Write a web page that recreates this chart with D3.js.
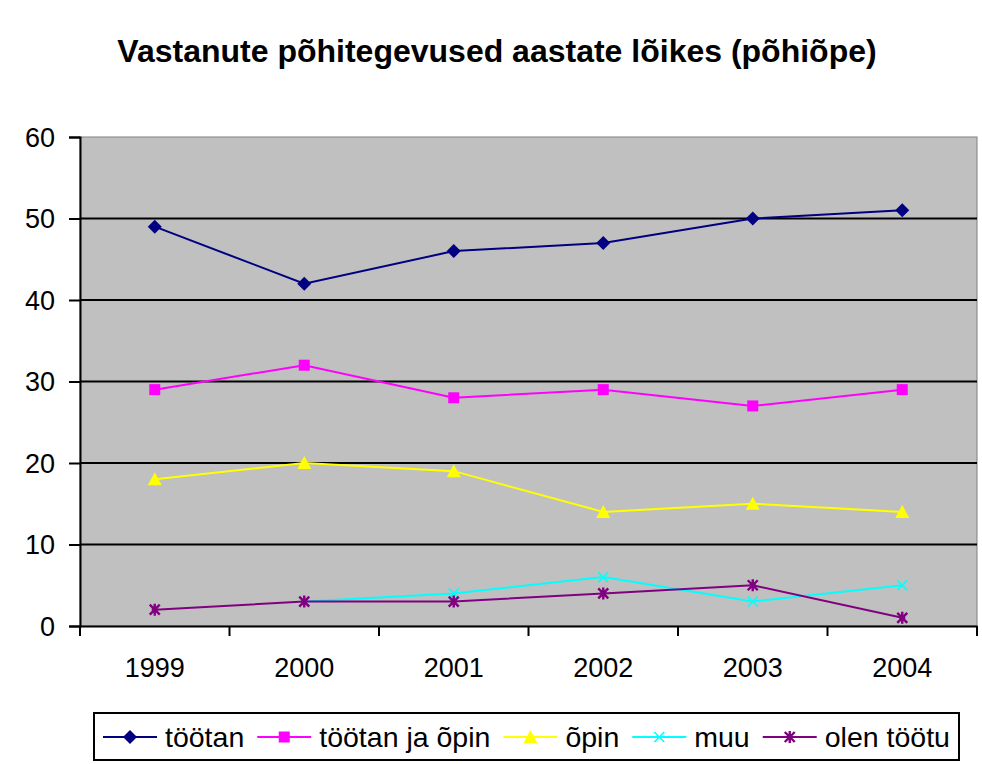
<!DOCTYPE html>
<html>
<head>
<meta charset="utf-8">
<script src="https://cdn.jsdelivr.net/npm/d3@7"></script>
<style>
  body { margin: 0; background: #fff; }
  text { font-family: "Liberation Sans", Arial, sans-serif; fill: #000; }
</style>
</head>
<body>
<svg id="chart" width="982" height="764"></svg>
<script>
const years = ["1999", "2000", "2001", "2002", "2003", "2004"];
const yTicks = [0, 10, 20, 30, 40, 50, 60];

const tootan = [49, 42, 46, 47, 50, 51];
const tootanJaOpin = [29, 32, 28, 29, 27, 29];
const opin = [18, 20, 19, 14, 15, 14];
const muu = [null, 3, 4, 6, 3, 5];
const olenTootu = [2, 3, 3, 4, 5, 1];

const seriesNames = ["töötan", "töötan ja õpin", "õpin", "muu", "olen töötu"];
const seriesColors = ["#000080", "#ff00ff", "#ffff00", "#00ffff", "#800080"];
const seriesMarkers = ["diamond", "square", "triangle", "cross", "star"];
const seriesValues = [tootan, tootanJaOpin, opin, muu, olenTootu];

const plot = { left: 80, right: 977, top: 137, bottom: 626 };

const svg = d3.select("#chart");

const x = d3.scaleBand().domain(years).range([plot.left, plot.right]).padding(0);
const y = d3.scaleLinear().domain([0, 60]).range([plot.bottom, plot.top]);

// title
svg.append("text")
  .attr("x", 497)
  .attr("y", 62)
  .attr("text-anchor", "middle")
  .style("font-size", "32px")
  .style("font-weight", "bold")
  .text("Vastanute põhitegevused aastate lõikes (põhiõpe)");

// plot background
svg.append("rect")
  .attr("x", plot.left)
  .attr("y", plot.top)
  .attr("width", plot.right - plot.left)
  .attr("height", plot.bottom - plot.top)
  .attr("fill", "#c0c0c0")
  .attr("stroke", "#808080")
  .attr("stroke-width", 1);

// gridlines
svg.append("g")
  .selectAll("line")
  .data(yTicks.filter((d) => d > 0 && d < 60))
  .join("line")
  .attr("x1", plot.left)
  .attr("x2", plot.right)
  .attr("y1", (d) => y(d))
  .attr("y2", (d) => y(d))
  .attr("stroke", "#000")
  .attr("stroke-width", 2);

// y axis
const yAxis = svg.append("g")
  .attr("transform", `translate(${plot.left},0)`)
  .call(d3.axisLeft(y).tickValues(yTicks).tickSize(11).tickPadding(6));
yAxis.select(".domain").attr("stroke", "#000").attr("stroke-width", 2);
yAxis.selectAll(".tick line").attr("stroke-width", 2);
yAxis.selectAll(".tick text")
  .style("font-size", "27px")
  .style("font-family", "'Liberation Sans', Arial, sans-serif")
  .attr("dy", "0.35em")
  .attr("x", -25);

// x axis with ticks between categories
const xAxis = svg.append("g")
  .attr("transform", `translate(0,${plot.bottom})`)
  .call(d3.axisBottom(x).tickSize(0).tickPadding(32));
xAxis.select(".domain").attr("stroke", "#000").attr("stroke-width", 2);
xAxis.selectAll(".tick text")
  .style("font-size", "27px")
  .style("font-family", "'Liberation Sans', Arial, sans-serif");
xAxis.append("g")
  .selectAll("line")
  .data(years.concat(["end"]))
  .join("line")
  .attr("x1", (d, i) => plot.left + i * x.bandwidth())
  .attr("x2", (d, i) => plot.left + i * x.bandwidth())
  .attr("y1", 0)
  .attr("y2", 10)
  .attr("stroke", "#000")
  .attr("stroke-width", 2);

function drawMarker(g, type, color, cx, cy) {
  if (type === "diamond") {
    g.append("path")
      .attr("d", `M ${cx} ${cy - 7} L ${cx + 7} ${cy} L ${cx} ${cy + 7} L ${cx - 7} ${cy} Z`)
      .attr("fill", color);
  } else if (type === "square") {
    g.append("rect")
      .attr("x", cx - 5.5).attr("y", cy - 5.5)
      .attr("width", 11).attr("height", 11)
      .attr("fill", color);
  } else if (type === "triangle") {
    g.append("path")
      .attr("d", `M ${cx} ${cy - 7} L ${cx + 7} ${cy + 6} L ${cx - 7} ${cy + 6} Z`)
      .attr("fill", color);
  } else if (type === "cross") {
    g.append("path")
      .attr("d", `M ${cx - 5} ${cy - 5} L ${cx + 5} ${cy + 5} M ${cx - 5} ${cy + 5} L ${cx + 5} ${cy - 5}`)
      .attr("stroke", color).attr("stroke-width", 1.6).attr("fill", "none");
  } else if (type === "star") {
    g.append("path")
      .attr("d", `M ${cx - 5} ${cy - 5} L ${cx + 5} ${cy + 5} M ${cx - 5} ${cy + 5} L ${cx + 5} ${cy - 5} M ${cx} ${cy - 6} L ${cx} ${cy + 6} M ${cx - 3} ${cy} L ${cx + 3} ${cy}`)
      .attr("stroke", color).attr("stroke-width", 2.4).attr("fill", "none");
  }
}

// series
const line = d3.line()
  .defined((d) => d.v != null)
  .x((d) => x(d.year) + x.bandwidth() / 2)
  .y((d) => y(d.v));

seriesValues.forEach((vals, si) => {
  const pts = years.map((yr, i) => ({ year: yr, v: vals[i] }));
  const g = svg.append("g");
  g.append("path")
    .datum(pts)
    .attr("d", line)
    .attr("fill", "none")
    .attr("stroke", seriesColors[si])
    .attr("stroke-width", 2);
  pts.filter((d) => d.v != null).forEach((d) => {
    drawMarker(g, seriesMarkers[si], seriesColors[si], x(d.year) + x.bandwidth() / 2, y(d.v));
  });
});

// legend
const legend = svg.append("g");
legend.append("rect")
  .attr("x", 94).attr("y", 713)
  .attr("width", 865).attr("height", 47)
  .attr("fill", "#fff")
  .attr("stroke", "#000")
  .attr("stroke-width", 2);

let lx = 103;
const ly = 737;
seriesNames.forEach((name, i) => {
  const item = legend.append("g");
  item.append("line")
    .attr("x1", lx).attr("x2", lx + 54)
    .attr("y1", ly).attr("y2", ly)
    .attr("stroke", seriesColors[i])
    .attr("stroke-width", 2);
  drawMarker(item, seriesMarkers[i], seriesColors[i], lx + 27, ly);
  const t = item.append("text")
    .attr("x", lx + 62)
    .attr("y", 747)
    .style("font-size", "28.5px")
    .text(name);
  lx += 62 + t.node().getComputedTextLength() + 13;
});
</script>
</body>
</html>
